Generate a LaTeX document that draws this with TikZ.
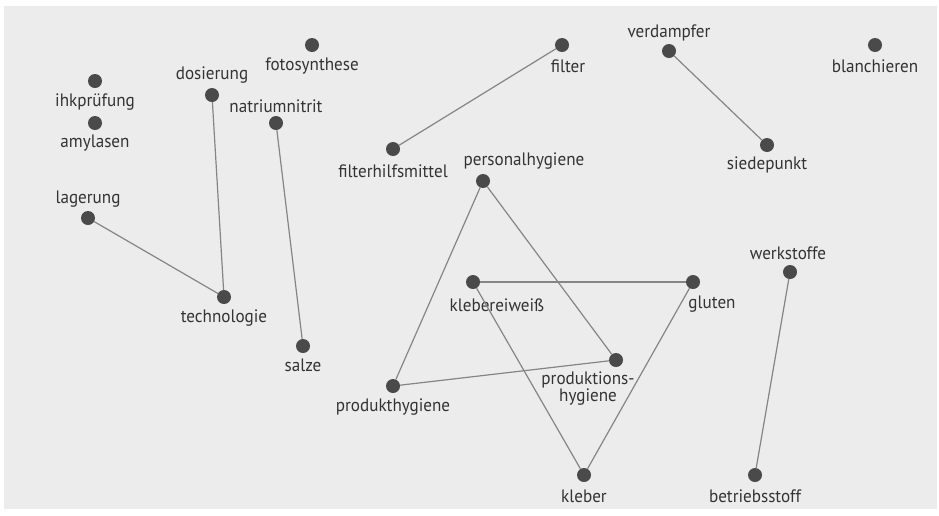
\documentclass[tikz,border=0pt]{standalone}
\usepackage{fontspec}
\setmainfont[FakeStretch=0.95]{PT Sans}
\usepackage{xcolor}
\usepackage{tikz}
\usetikzlibrary{positioning}
\definecolor{panelgray}{HTML}{ECECEC}
\definecolor{dotgray}{HTML}{4A4A4A}
\definecolor{linegray}{HTML}{858585}
\definecolor{textgray}{HTML}{333333}

\begin{document}
\begin{tikzpicture}[x=1pt, y=-1pt,
    dot/.style={circle, fill=dotgray, minimum size=14pt, inner sep=0pt},
    lbl/.style={text=textgray, font=\fontsize{18}{18}\selectfont, inner sep=0pt, align=center},
    edge/.style={draw=linegray, line width=1.2pt}]
    % panel
    \fill[white] (0,0) rectangle (939,515);
    \fill[panelgray] (4,6) rectangle (937,509);

    % terms
    \node[dot] (fotosynthese) at (312,45) {};
    \node[lbl] (fotosynthese-t) at (312,66) {fotosynthese};
    \node[dot] (ihkpruefung) at (95,81) {};
    \node[lbl] (ihkpruefung-t) at (95,102) {ihkprüfung};
    \node[dot] (amylasen) at (95,123) {};
    \node[lbl] (amylasen-t) at (95,143) {amylasen};
    \node[dot] (dosierung) at (212,95) {};
    \node[lbl] (dosierung-t) at (212,75) {dosierung};
    \node[dot] (natriumnitrit) at (276,123) {};
    \node[lbl] (natriumnitrit-t) at (276,106) {natriumnitrit};
    \node[dot] (filterhilfsmittel) at (393,149) {};
    \node[lbl] (filterhilfsmittel-t) at (393,171) {filterhilfsmittel};
    \node[dot] (filter) at (562,45) {};
    \node[lbl] (filter-t) at (568,66) {filter};
    \node[dot] (verdampfer) at (669,51) {};
    \node[lbl] (verdampfer-t) at (669,33) {verdampfer};
    \node[dot] (blanchieren) at (875,45) {};
    \node[lbl] (blanchieren-t) at (875,66) {blanchieren};
    \node[dot] (siedepunkt) at (767,145) {};
    \node[lbl] (siedepunkt-t) at (767,165) {siedepunkt};
    \node[dot] (personalhygiene) at (483,181) {};
    \node[lbl] (personalhygiene-t) at (524,161) {personalhygiene};
    \node[dot] (lagerung) at (88,218) {};
    \node[lbl] (lagerung-t) at (88,199) {lagerung};
    \node[dot] (technologie) at (224,297) {};
    \node[lbl] (technologie-t) at (224,318) {technologie};
    \node[dot] (salze) at (303,346) {};
    \node[lbl] (salze-t) at (303,365) {salze};
    \node[dot] (klebereiweiss) at (473,282) {};
    \node[lbl] (klebereiweiss-t) at (497,305) {klebereiweiß};
    \node[dot] (gluten) at (693,282) {};
    \node[lbl] (gluten-t) at (712,304) {gluten};
    \node[dot] (werkstoffe) at (790,272) {};
    \node[lbl] (werkstoffe-t) at (788,253) {werkstoffe};
    \node[dot] (produktionshygiene) at (616,360) {};
    \node[lbl] (produktionshygiene-t) at (588,389) {produktions-\\[-1pt]hygiene};
    \node[dot] (produkthygiene) at (393,386) {};
    \node[lbl] (produkthygiene-t) at (393,407) {produkthygiene};
    \node[dot] (kleber) at (584,475) {};
    \node[lbl] (kleber-t) at (584,496) {kleber};
    \node[dot] (betriebsstoff) at (755,475) {};
    \node[lbl] (betriebsstoff-t) at (755,496) {betriebsstoff};

    % links
    \draw[edge] (filterhilfsmittel) -- (filter);
    \draw[edge] (verdampfer) -- (siedepunkt);
    \draw[edge] (dosierung) -- (technologie);
    \draw[edge] (lagerung) -- (technologie);
    \draw[edge] (natriumnitrit) -- (salze);
    \draw[edge] (personalhygiene) -- (produkthygiene);
    \draw[edge] (personalhygiene) -- (produktionshygiene);
    \draw[edge] (produkthygiene) -- (produktionshygiene);
    \draw[edge] (klebereiweiss) -- (gluten);
    \draw[edge] (klebereiweiss) -- (kleber);
    \draw[edge] (gluten) -- (kleber);
    \draw[edge] (werkstoffe) -- (betriebsstoff);
\end{tikzpicture}
\end{document}
